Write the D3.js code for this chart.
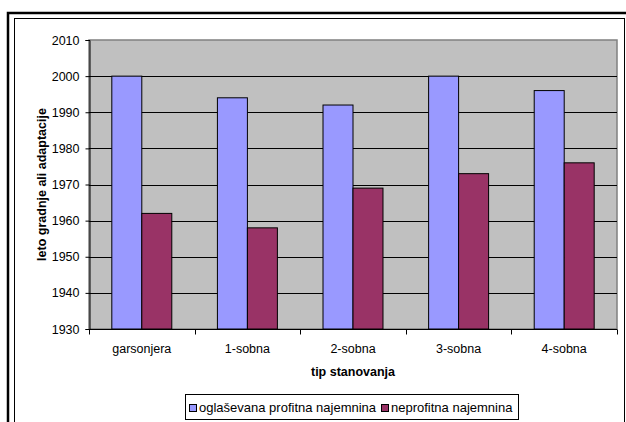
<!DOCTYPE html>
<html>
<head>
<meta charset="utf-8">
<script src="https://cdn.jsdelivr.net/npm/d3@7"></script>
<style>
  html, body { margin: 0; padding: 0; background: #fff; }
  svg { display: block; font-family: Arial, "Liberation Sans", sans-serif; }
</style>
</head>
<body>
<svg id="chart" width="626" height="422"></svg>
<script>
// Apartment types on the x axis
const categories = ["garsonjera", "1-sobna", "2-sobna", "3-sobna", "4-sobna"];
// Series names as shown in the legend
const seriesNames = ["oglaševana profitna najemnina", "neprofitna najemnina"];
// Average year of construction or renovation per apartment type
const profitValues = [2000, 1994, 1992, 2000, 1996];
const nonProfitValues = [1962, 1958, 1969, 1973, 1976];
// Y-axis ticks
const yTicks = [1930, 1940, 1950, 1960, 1970, 1980, 1990, 2000, 2010];

const seriesColors = ["#9999ff", "#993366"];
const seriesValues = [profitValues, nonProfitValues];

const svg = d3.select("#chart");
const FONT = "Arial, 'Liberation Sans', sans-serif";

// Outer frame (thick) and inner frame (thin)
svg.append("rect")
  .attr("x", 8).attr("y", 13).attr("width", 640).attr("height", 440)
  .attr("fill", "#fff").attr("stroke", "#000").attr("stroke-width", 2.5);
svg.append("rect")
  .attr("x", 14.5).attr("y", 18.5).attr("width", 610).attr("height", 430)
  .attr("fill", "none").attr("stroke", "#000").attr("stroke-width", 1);

const plot = { left: 89, right: 617, top: 40, bottom: 329 };

const x = d3.scaleBand()
  .domain(categories)
  .range([plot.left, plot.right])
  .paddingInner(0)
  .paddingOuter(0);

const y = d3.scaleLinear()
  .domain([1930, 2010])
  .range([plot.bottom, plot.top]);

const barW = x.bandwidth() * 0.284;

// Plot background
svg.append("rect")
  .attr("x", plot.left).attr("y", plot.top)
  .attr("width", plot.right - plot.left).attr("height", plot.bottom - plot.top)
  .attr("fill", "#c0c0c0")
  .attr("stroke", "#808080").attr("stroke-width", 1.5);

// Horizontal grid lines
svg.append("g")
  .selectAll("line")
  .data(yTicks.filter(t => t > 1930 && t < 2010))
  .join("line")
  .attr("x1", plot.left).attr("x2", plot.right)
  .attr("y1", d => Math.round(y(d)) + 0.5).attr("y2", d => Math.round(y(d)) + 0.5)
  .attr("stroke", "#000").attr("stroke-width", 1);

// Bars, two per category
seriesValues.forEach((vals, si) => {
  svg.append("g")
    .selectAll("rect")
    .data(categories)
    .join("rect")
    .attr("x", (c) => x(c) + x.bandwidth() / 2 - barW + si * barW)
    .attr("y", (c, i) => y(vals[i]))
    .attr("width", barW)
    .attr("height", (c, i) => y(1930) - y(vals[i]))
    .attr("fill", seriesColors[si])
    .attr("stroke", "#000").attr("stroke-width", 1);
});

// Y axis
const yAxis = d3.axisLeft(y)
  .tickValues(yTicks)
  .tickFormat(d3.format("d"))
  .tickSize(4)
  .tickPadding(6);
const yg = svg.append("g")
  .attr("transform", `translate(${plot.left + 0.5},0)`)
  .call(yAxis);
yg.select(".domain").attr("stroke", "#000");
yg.selectAll(".tick line").attr("stroke", "#000");
yg.selectAll("text").attr("font-size", 12.5).attr("fill", "#000")
  .attr("font-family", FONT);

// X axis with ticks on category boundaries
const xg = svg.append("g")
  .attr("transform", `translate(0,${plot.bottom + 0.5})`);
xg.append("line")
  .attr("x1", plot.left).attr("x2", plot.right)
  .attr("stroke", "#000");
xg.selectAll("line.tick")
  .data(categories.concat(["end"]))
  .join("line")
  .attr("class", "tick")
  .attr("x1", (d, i) => Math.round(i < categories.length ? x(d) : plot.right) + 0.5)
  .attr("x2", (d, i) => Math.round(i < categories.length ? x(d) : plot.right) + 0.5)
  .attr("y1", 0).attr("y2", 5)
  .attr("stroke", "#000");
xg.selectAll("text")
  .data(categories)
  .join("text")
  .attr("x", d => x(d) + x.bandwidth() / 2)
  .attr("y", 23.5)
  .attr("text-anchor", "middle")
  .attr("font-size", 12.5)
  .text(d => d);

// Axis titles
svg.append("text")
  .attr("x", (plot.left + plot.right) / 2)
  .attr("y", 375.5)
  .attr("text-anchor", "middle")
  .attr("font-size", 12.5).attr("font-weight", "bold")
  .text("tip stanovanja");

svg.append("text")
  .attr("transform", `translate(46,${(plot.top + plot.bottom) / 2}) rotate(-90)`)
  .attr("text-anchor", "middle")
  .attr("font-size", 12.5).attr("font-weight", "bold")
  .text("leto gradnje ali adaptacije");

// Legend
const legend = svg.append("g");
legend.append("rect")
  .attr("x", 185.5).attr("y", 394.5).attr("width", 333).attr("height", 25)
  .attr("fill", "#fff").attr("stroke", "#000").attr("stroke-width", 1);
const legendX = [189, 381];
seriesNames.forEach((name, i) => {
  legend.append("rect")
    .attr("x", legendX[i] + 0.5).attr("y", 404.5)
    .attr("width", 7).attr("height", 7)
    .attr("fill", seriesColors[i]).attr("stroke", "#000");
  legend.append("text")
    .attr("x", legendX[i] + 10).attr("y", 412)
    .attr("font-size", 13)
    .text(name);
});
</script>
</body>
</html>
